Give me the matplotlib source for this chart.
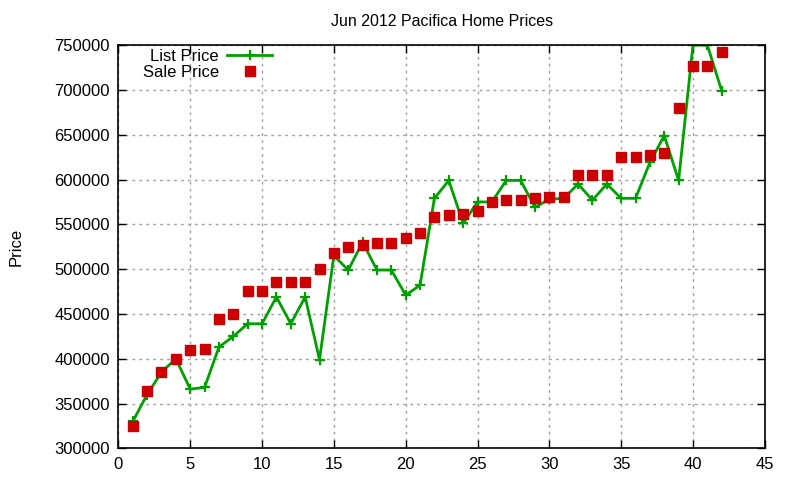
import matplotlib
matplotlib.use("Agg")
import matplotlib.pyplot as plt

# listing number vs. prices
listing = list(range(1, 43))
list_price = [
    330000, 360000, 385000, 400000, 366000, 368000, 413000, 425000, 439000, 439000,
    469000, 439000, 469000, 399000, 515000, 499000, 530000, 499000, 499000, 471000,
    482000, 579000, 599000, 551000, 575000, 575000, 599000, 599000, 569000, 578000,
    579000, 595000, 577000, 595000, 579000, 579000, 619000, 649000, 599000, 750000,
    750000, 699000,
]
sale_price = [
    325000, 364000, 385000, 400000, 410000, 411000, 444000, 450000, 476000, 476000,
    486000, 486000, 486000, 500000, 518000, 525000, 527000, 529000, 529000, 535000,
    540000, 558000, 560000, 561000, 565000, 575000, 577000, 577000, 579000, 580000,
    580000, 605000, 605000, 605000, 625000, 625000, 627000, 630000, 680000, 727000,
    727000, 742000,
]

plt.rcParams["font.family"] = ["Liberation Sans", "DejaVu Sans"]
plt.rcParams["font.size"] = 12

fig = plt.figure(figsize=(8, 4.8), dpi=100)
ax = fig.add_axes([0.148, 0.066, 0.808, 0.840])

ax.plot(listing, list_price, "-", color="#00a000", linewidth=2,
        marker="+", markersize=7, markeredgewidth=1.6, label="List Price")
ax.plot(listing, sale_price, "s", color="#cc0000", markersize=6.5,
        linestyle="none", label="Sale Price")

ax.set_xlim(0, 45)
ax.set_ylim(300000, 750000)
ax.set_xticks(range(0, 46, 5))
ax.set_yticks(range(300000, 750001, 50000))
ax.ticklabel_format(style="plain", axis="y", useOffset=False)
ax.tick_params(direction="in", top=True, right=True, length=6, width=1, pad=6,
               labelsize=12)
ax.grid(True, color="#a0a0a0", linestyle=(0, (2, 3)), linewidth=1)
for sp in ax.spines.values():
    sp.set_linewidth(1.2)

ax.set_title("Jun 2012 Pacifica Home Prices", fontsize=11.5, pad=14)
ax.set_ylabel("Price", fontsize=12, labelpad=22)

ax.legend(loc="upper left", bbox_to_anchor=(0.02, 1.02), frameon=False,
          markerfirst=False, handlelength=2.7, handletextpad=0.5,
          labelspacing=0.05, borderaxespad=0.3, fontsize=12)

fig.savefig("out.png", dpi=100)
